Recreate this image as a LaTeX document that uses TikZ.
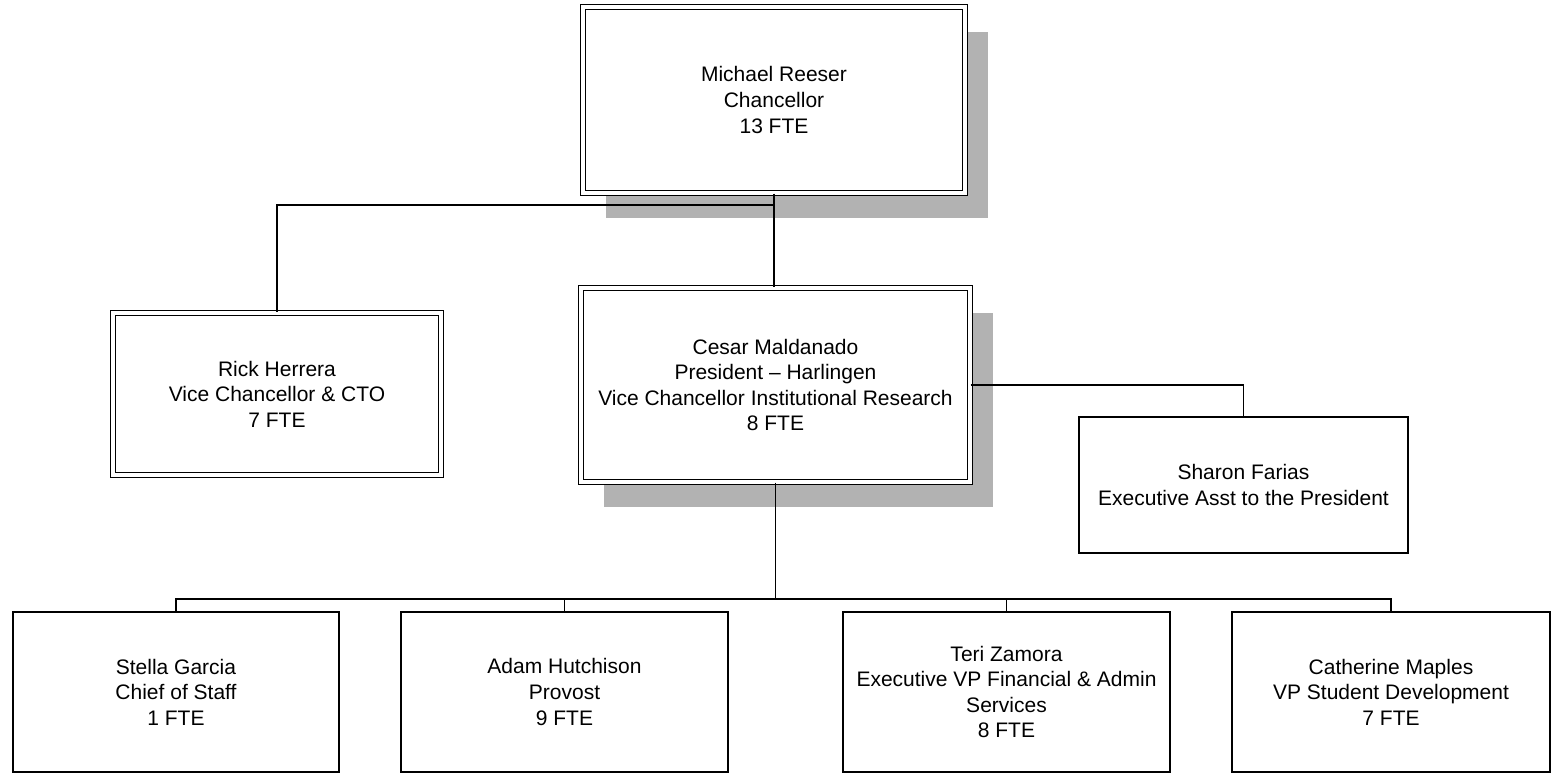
\documentclass[tikz,border=0pt]{standalone}
\usepackage{fontspec}
\setmainfont{Liberation Sans}
\usetikzlibrary{shadows}
\begin{document}
\begin{tikzpicture}[x=0.5pt,y=-0.5pt,
  every node/.style={font=\fontsize{10.5}{12.8}\selectfont, align=center, inner sep=0pt},
  dbox/.style={draw=black, fill=white, line width=0.6pt, double=white, double distance=1.8pt},
  sbox/.style={draw=black, fill=white, line width=0.8pt},
  shad/.style={drop shadow={shadow xshift=11.5pt, shadow yshift=-12.5pt, fill=black!30, opacity=1}},
  conn/.style={draw=black, line width=0.75pt}]
\useasboundingbox (0,0) rectangle (1553,773);

\node[dbox, shad, minimum width=191pt, minimum height=93pt] (top) at (774,100)
  {Michael Reeser\\Chancellor\\13 FTE};
\node[dbox, minimum width=164pt, minimum height=81pt] (rick) at (277,394)
  {Rick Herrera\\Vice Chancellor \& CTO\\7 FTE};
\node[dbox, shad, minimum width=194.5pt, minimum height=97pt] (cesar) at (775.5,385)
  {Cesar Maldanado\\President -- Harlingen\\Vice Chancellor Institutional Research\\8 FTE};
\node[sbox, minimum width=164.5pt, minimum height=68pt] (sharon) at (1243.5,485)
  {Sharon Farias\\Executive Asst to the President};

\node[sbox, minimum width=163pt, minimum height=80pt] (stella) at (176,692)
  {Stella Garcia\\Chief of Staff\\1 FTE};
\node[sbox, minimum width=163.5pt, minimum height=80pt] (adam) at (564.5,692)
  {Adam Hutchison\\Provost\\9 FTE};
\node[sbox, minimum width=163.5pt, minimum height=80pt] (teri) at (1006.5,692)
  {Teri Zamora\\Executive VP Financial \& Admin\\Services\\8 FTE};
\node[sbox, minimum width=159pt, minimum height=80pt] (cath) at (1391,692)
  {Catherine Maples\\VP Student Development\\7 FTE};

\coordinate (j1) at (774,205);
\coordinate (bus) at (775,599);

\draw[conn] (top.south) -- (top.south |- cesar.north);
\draw[conn] (j1) -| (rick.north);
\draw[conn] (cesar.east) -| (sharon.north);
\draw[conn] (cesar.south) -- (cesar.south |- bus);
\draw[conn] (stella.north) |- (bus) -| (cath.north);
\draw[conn] (adam.north) -- (adam.north |- bus);
\draw[conn] (teri.north) -- (teri.north |- bus);
\end{tikzpicture}
\end{document}
